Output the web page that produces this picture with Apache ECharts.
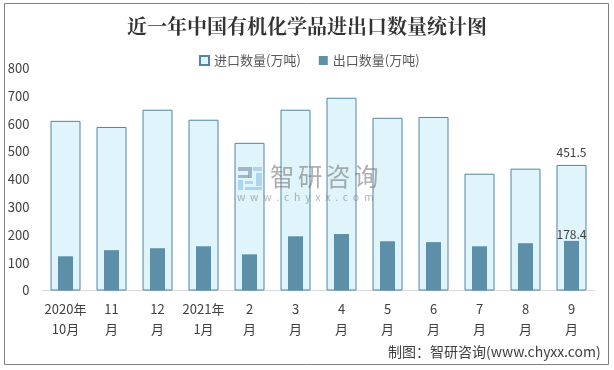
<!DOCTYPE html>
<html><head><meta charset="utf-8">
<style>html,body{margin:0;padding:0;background:#fff}#c{width:614px;height:370px}</style>
<script src="https://cdn.jsdelivr.net/npm/echarts@6/dist/echarts.min.js"></script>
</head><body><div id="c"></div>
<script>
const months = ['2020年\n10月','11\n月','12\n月','2021年\n1月','2\n月','3\n月','4\n月','5\n月','6\n月','7\n月','8\n月','9\n月'];
const importQty = [610,588,650,614,531,650,693,621,624,420,438,451.5];
const exportQty = [123,145,152,159,130,195,203,177,174,159,170,178.4];
const importName = '进口数量(万吨)';
const exportName = '出口数量(万吨)';
const font = '"Noto Sans CJK SC","Noto Sans",sans-serif';
const textColor = '#404040';
const lastLabel = (val) => ({show:true,position:'top',distance:val,color:textColor,fontSize:12,fontFamily:font});
const logoGray = 'rgba(120,140,165,0.6)';
const logoBlue = 'rgba(130,190,230,0.55)';
const logoRect = (x,y,w,h,fill) => ({type:'rect',silent:true,z:5,shape:{x,y,width:w,height:h},style:{fill}});
const markGlyphs = ['智','研','咨','询'];
const chart = echarts.init(document.getElementById('c'),null,{renderer:'canvas'});
chart.setOption({
  animation:false,
  backgroundColor:'#fff',
  title:{text:'近一年中国有机化学品进出口数量统计图',left:'center',top:11,
    textStyle:{fontSize:20,fontWeight:'bold',color:'#333',fontFamily:'"Noto Serif CJK SC","Noto Sans CJK SC",serif'}},
  legend:{top:49,left:194,itemWidth:9,itemHeight:9,itemGap:18,
    textStyle:{fontSize:13,color:'#595959',fontFamily:font},
    data:[{name:importName,icon:'rect'},{name:exportName,icon:'rect'}]},
  grid:{left:42.5,right:19.5,top:68,height:222.5,containLabel:false},
  xAxis:[
    {type:'category',data:months,axisTick:{show:false},
     axisLine:{lineStyle:{color:'#d9d9d9',width:1}},
     axisLabel:{interval:0,color:textColor,fontSize:13,lineHeight:20,margin:9,fontFamily:font}},
    {type:'category',data:months,show:false}
  ],
  yAxis:{type:'value',min:0,max:800,interval:100,splitLine:{show:false},axisLine:{show:false},axisTick:{show:false},
    axisLabel:{color:textColor,fontSize:13,margin:13,fontFamily:font}},
  series:[
    {name:importName,type:'bar',xAxisIndex:0,barWidth:30,
     data:importQty.map((v,i)=>i===11?{value:v,label:lastLabel(6)}:v),
     itemStyle:{color:'#dff4fb',borderColor:'#4f86a3',borderWidth:1}},
    {name:exportName,type:'bar',xAxisIndex:1,barWidth:15,
     data:exportQty.map((v,i)=>i===11?{value:v,label:lastLabel(0)}:v),
     itemStyle:{color:'#5e8fa8'}}
  ],
  graphic:[
    {type:'rect',silent:true,z:-1,shape:{x:4.5,y:3.5,width:604,height:361},style:{fill:'none',stroke:'#808080',lineWidth:1}},
    logoRect(238,167,14,4,logoGray),logoRect(248,171,4,7,logoGray),logoRect(238,175,11,3,logoGray),
    logoRect(238,180,5,10,logoBlue),logoRect(245,181,8,3,logoBlue),logoRect(253,167,9,4,logoBlue),logoRect(256,173,6,13,logoBlue),logoRect(245,187,17,3,logoBlue),
    ...markGlyphs.map((g,i)=>({type:'text',silent:true,z:5,left:270+i*28,top:164,style:{text:g,fill:'rgba(110,110,110,0.55)',fontSize:24.5,fontFamily:font}})),
    {type:'text',silent:true,z:5,left:237,top:192,style:{text:'w  w  w  .  c  h  y  x  x  .  c  o  m',fill:'rgba(110,110,110,0.5)',fontSize:10.5,fontFamily:font}},
    {type:'text',silent:true,z:5,left:388,top:345,style:{text:'制图：智研咨询(www.chyxx.com)',fill:'#404040',fontSize:14,fontFamily:font}}
  ]
});
</script></body></html>
